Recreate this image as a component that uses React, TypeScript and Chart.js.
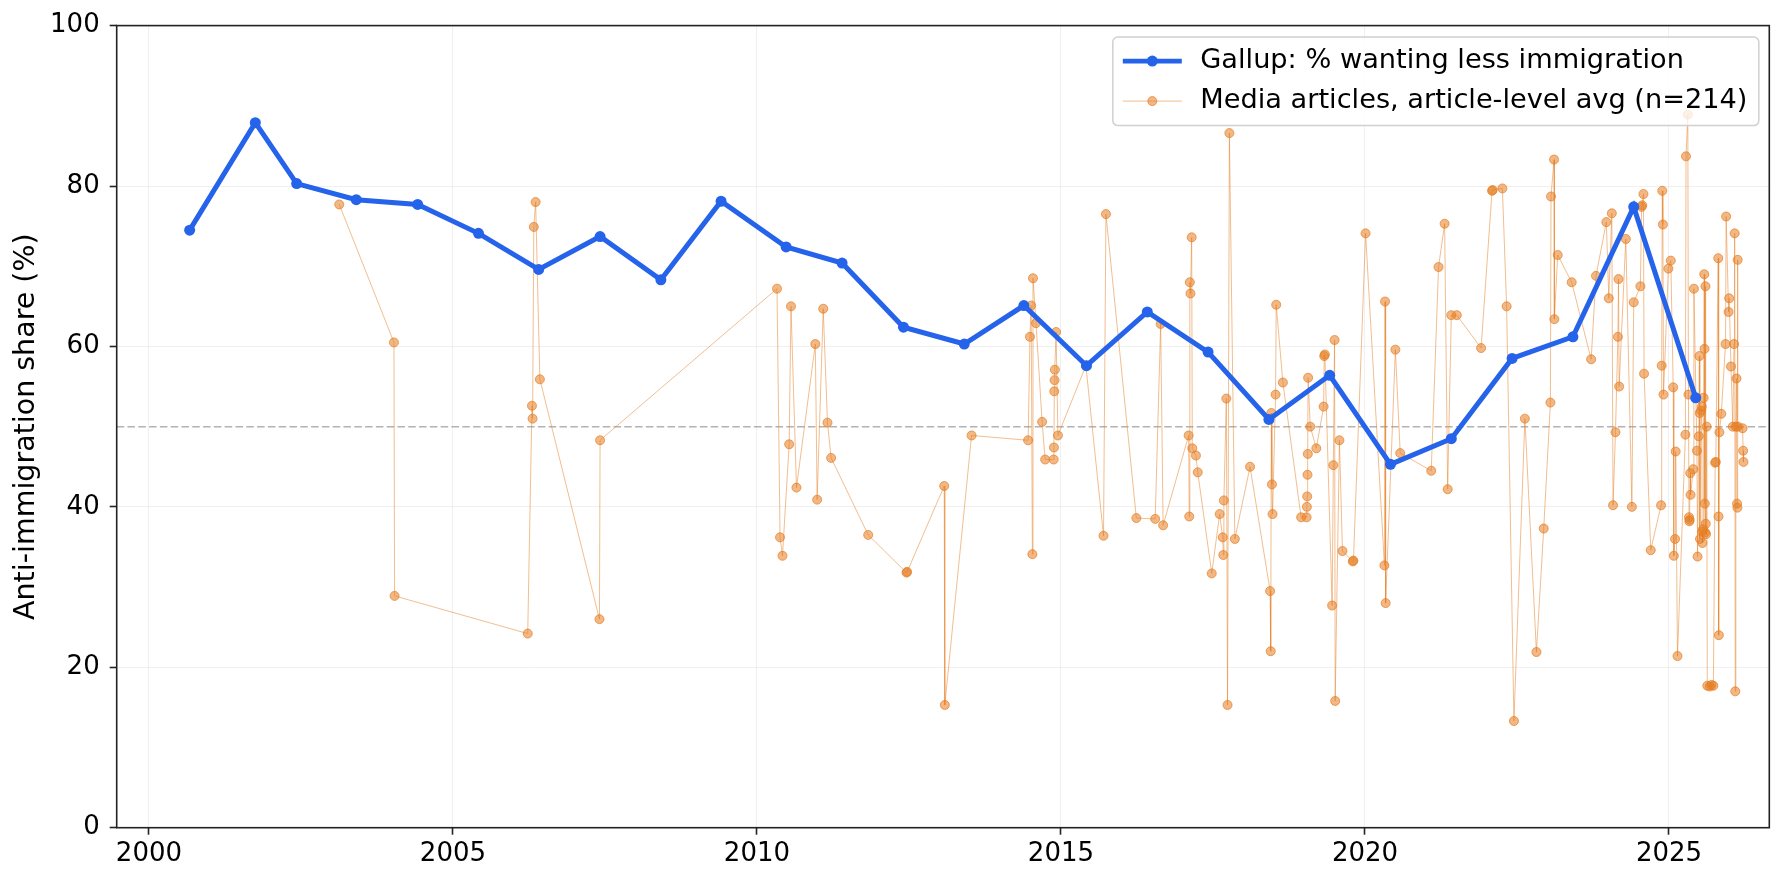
import React, { useEffect, useRef } from 'react';
import { Chart, registerables } from 'chart.js';

Chart.register(...registerables);

// Gallup: % wanting less immigration (fractional year, share)
const GALLUP_DATES = [
  2000.67, 2001.75, 2002.43, 2003.41, 2004.42, 2005.42, 2006.41, 2007.42, 2008.42,
  2009.41, 2010.48, 2011.40, 2012.41, 2013.41, 2014.39, 2015.42, 2016.42, 2017.42,
  2018.42, 2019.42, 2020.42, 2021.42, 2022.42, 2023.42, 2024.42, 2025.44,
];
const GALLUP_LESS = [
  74.5, 87.9, 80.3, 78.3, 77.7, 74.1, 69.6, 73.7, 68.3,
  78.1, 72.4, 70.4, 62.4, 60.3, 65.1, 57.6, 64.3, 59.3,
  50.9, 56.4, 45.3, 48.5, 58.5, 61.2, 77.4, 53.6,
];

// media articles, article-level average
const MEDIA_DATES = [
  2003.13, 2004.03, 2004.04, 2006.23, 2006.30, 2006.31, 2006.33, 2006.36, 2006.43, 2007.41, 2007.42,
  2010.33, 2010.38, 2010.42, 2010.53, 2010.56, 2010.65, 2010.96, 2010.99, 2011.09, 2011.16, 2011.22,
  2011.83, 2012.46, 2012.47, 2013.08, 2013.09, 2013.53,
  2014.46, 2014.49, 2014.51, 2014.53, 2014.54, 2014.59, 2014.69, 2014.74, 2014.88, 2014.885, 2014.89,
  2014.895, 2014.90, 2014.92, 2014.95,
  2015.41, 2015.70, 2015.74, 2016.24, 2016.55, 2016.64, 2016.68,
  2017.10, 2017.11, 2017.12, 2017.13, 2017.15, 2017.16, 2017.22, 2017.25, 2017.48, 2017.61, 2017.66,
  2017.67, 2017.68, 2017.72, 2017.74, 2017.77, 2017.86,
  2018.11, 2018.44, 2018.45, 2018.46, 2018.47, 2018.48, 2018.53, 2018.54, 2018.65,
  2018.95, 2019.04, 2019.045, 2019.05, 2019.055, 2019.06, 2019.065, 2019.10, 2019.20, 2019.32, 2019.33,
  2019.34, 2019.46, 2019.48, 2019.50, 2019.51, 2019.58, 2019.63, 2019.80, 2019.81,
  2020.01, 2020.32, 2020.33, 2020.34, 2020.50, 2020.58,
  2021.09, 2021.21, 2021.31, 2021.36, 2021.42, 2021.51, 2021.91,
  2022.09, 2022.10, 2022.26, 2022.33, 2022.45, 2022.63, 2022.82, 2022.94,
  2023.05, 2023.06, 2023.11, 2023.115, 2023.17, 2023.40, 2023.72, 2023.80, 2023.97,
  2024.01, 2024.06, 2024.08, 2024.12, 2024.16, 2024.17, 2024.18, 2024.29, 2024.39, 2024.42,
  2024.53, 2024.55, 2024.56, 2024.58, 2024.59, 2024.70, 2024.87, 2024.88, 2024.89, 2024.90, 2024.91,
  2024.99, 2025.03, 2025.07, 2025.08, 2025.10, 2025.11, 2025.14,
  2025.27, 2025.28, 2025.31, 2025.32, 2025.33, 2025.335, 2025.34, 2025.35, 2025.355, 2025.40, 2025.41,
  2025.46, 2025.47, 2025.49, 2025.50, 2025.505, 2025.51, 2025.53, 2025.54, 2025.545, 2025.55, 2025.56,
  2025.57, 2025.58, 2025.585, 2025.59, 2025.595, 2025.60, 2025.605, 2025.61, 2025.62,
  2025.63, 2025.67, 2025.70, 2025.73, 2025.76, 2025.77, 2025.81, 2025.815, 2025.82, 2025.83, 2025.86,
  2025.93, 2025.94, 2025.98, 2025.99,
  2026.02, 2026.05, 2026.07, 2026.08, 2026.09, 2026.10, 2026.11, 2026.12, 2026.125, 2026.13, 2026.135,
  2026.21, 2026.22, 2026.225,
];
const MEDIA_SHARE = [
  77.7, 60.5, 28.9, 24.2, 52.6, 51.0, 74.9, 78.0, 55.9, 26.0, 48.3,
  67.2, 36.2, 33.9, 47.8, 65.0, 42.4, 60.3, 40.9, 64.7, 50.5, 46.1,
  36.5, 31.8, 31.9, 42.6, 15.3, 48.9,
  48.3, 61.2, 65.1, 34.1, 68.5, 62.9, 50.6, 45.9, 45.9, 47.4, 54.4,
  55.8, 57.1, 61.8, 48.9,
  57.6, 36.4, 76.5, 38.6, 38.5, 62.8, 37.7,
  48.9, 38.8, 68.0, 66.6, 73.6, 47.3, 46.4, 44.3, 31.7, 39.1, 36.2,
  34.0, 40.8, 53.5, 15.3, 86.6, 36.0,
  45.0, 29.5, 22.0, 51.7, 42.8, 39.1, 54.0, 65.2, 55.5,
  38.7, 38.7, 40.0, 41.3, 44.0, 46.6, 56.1, 50.0, 47.3, 52.5, 58.8,
  59.0, 27.7, 45.2, 60.8, 15.8, 48.3, 34.5, 33.2, 33.3,
  74.1, 32.7, 65.6, 28.0, 59.6, 46.7,
  44.5, 69.9, 75.3, 42.2, 63.9, 63.9, 59.8,
  79.4, 79.5, 79.7, 65.0, 13.3, 51.0, 21.9, 37.3,
  53.0, 78.7, 83.3, 63.4, 71.4, 68.0, 58.4, 68.8, 75.5,
  66.0, 76.6, 40.2, 49.3, 61.2, 68.4, 55.0, 73.4, 40.0, 65.5,
  67.5, 77.4, 77.6, 79.0, 56.6, 34.6, 40.2, 57.6, 79.4, 75.2, 54.0,
  69.7, 70.7, 54.9, 33.9, 36.0, 46.9, 21.4,
  49.0, 83.7, 88.9, 54.0, 38.7, 38.2, 38.4, 44.2, 41.5, 44.7, 67.2,
  47.0, 33.8, 48.8, 58.8, 51.7, 36.0, 52.0, 52.5, 36.9, 35.5, 37.2,
  53.6, 69.0, 59.7, 40.4, 36.8, 67.5, 37.9, 36.6, 50.0,
  17.7, 17.6, 17.8, 17.7, 45.5, 45.6, 71.0, 38.8, 24.0, 49.3, 51.6,
  60.3, 76.2, 64.3, 66.0,
  57.5, 50.0, 60.3, 74.1, 17.0, 50.0, 56.0, 40.4, 39.9, 70.8, 50.0,
  49.8, 47.0, 45.6,
];

const X_TICKS = [2000, 2005, 2010, 2015, 2020, 2025];
const Y_TICKS = [0, 20, 40, 60, 80, 100];
const X_MIN = 1999.47;
const X_MAX = 2026.65;
const THRESHOLD = 50;
const GALLUP_LABEL = 'Gallup: % wanting less immigration';
const MEDIA_LABEL = 'Media articles, article-level avg (n=214)';
const Y_TITLE = 'Anti-immigration share (%)';

const BLUE = '#2563eb';
const ORANGE = 'rgba(230, 126, 34, 0.55)';
const ORANGE_EDGE = 'rgba(230, 126, 34, 0.7)';
const ORANGE_LINE = 'rgba(230, 126, 34, 0.5)';
const FONT = '"DejaVu Sans", sans-serif';

// 50% guide, box frame and an in-plot legend like matplotlib's
const decorPlugin = {
  id: 'decor',
  beforeDatasetsDraw(chart: any) {
    const { ctx, chartArea: a, scales } = chart;
    const y = scales.y.getPixelForValue(THRESHOLD);
    ctx.save();
    ctx.strokeStyle = 'rgba(128,128,128,0.6)';
    ctx.lineWidth = 1.5;
    ctx.setLineDash([7.5, 3.3]);
    ctx.beginPath();
    ctx.moveTo(a.left, y);
    ctx.lineTo(a.right, y);
    ctx.stroke();
    ctx.restore();
  },
  afterDraw(chart: any) {
    const { ctx, chartArea: a } = chart;
    ctx.save();
    ctx.strokeStyle = '#222';
    ctx.lineWidth = 1.6;
    ctx.strokeRect(a.left, a.top, a.right - a.left, a.bottom - a.top);

    // legend box
    const right = a.right - 10.5;
    const left = right - 646;
    const top = a.top + 11.5;
    const bottom = top + 88.5;
    const r = 5;
    ctx.beginPath();
    ctx.moveTo(left + r, top);
    ctx.arcTo(right, top, right, bottom, r);
    ctx.arcTo(right, bottom, left, bottom, r);
    ctx.arcTo(left, bottom, left, top, r);
    ctx.arcTo(left, top, right, top, r);
    ctx.closePath();
    ctx.fillStyle = 'rgba(255,255,255,0.8)';
    ctx.fill();
    ctx.strokeStyle = '#d0d0d0';
    ctx.lineWidth = 1.5;
    ctx.stroke();

    const hx0 = left + 10;
    const hx1 = left + 69;
    const hxm = (hx0 + hx1) / 2;
    const row1 = top + 24;
    const row2 = top + 64;

    ctx.strokeStyle = BLUE;
    ctx.lineWidth = 4.8;
    ctx.beginPath();
    ctx.moveTo(hx0, row1);
    ctx.lineTo(hx1, row1);
    ctx.stroke();
    ctx.fillStyle = BLUE;
    ctx.beginPath();
    ctx.arc(hxm, row1, 5.5, 0, Math.PI * 2);
    ctx.fill();

    ctx.strokeStyle = ORANGE_LINE;
    ctx.lineWidth = 1;
    ctx.beginPath();
    ctx.moveTo(hx0, row2);
    ctx.lineTo(hx1, row2);
    ctx.stroke();
    ctx.fillStyle = ORANGE;
    ctx.strokeStyle = ORANGE_EDGE;
    ctx.beginPath();
    ctx.arc(hxm, row2, 4.5, 0, Math.PI * 2);
    ctx.fill();
    ctx.stroke();

    ctx.fillStyle = '#000';
    ctx.font = `27.2px ${FONT}`;
    ctx.textBaseline = 'middle';
    ctx.textAlign = 'left';
    ctx.fillText(GALLUP_LABEL, left + 87.5, row1);
    ctx.fillText(MEDIA_LABEL, left + 87.5, row2);
    ctx.restore();
  },
};

const App: React.FC = () => {
  const canvasRef = useRef<HTMLCanvasElement>(null);

  useEffect(() => {
    document.body.style.margin = '0';
    const canvas = canvasRef.current;
    if (!canvas) return;

    const gallup = GALLUP_DATES.map((d, i) => ({ x: d, y: GALLUP_LESS[i] }));
    const media = MEDIA_DATES.map((d, i) => ({ x: d, y: MEDIA_SHARE[i] })).sort((p, q) => p.x - q.x);

    const tickFont = { family: FONT, size: 26 };

    const chart = new Chart(canvas, {
      type: 'line',
      data: {
        datasets: [
          {
            label: GALLUP_LABEL,
            data: gallup,
            borderColor: BLUE,
            backgroundColor: BLUE,
            borderWidth: 5,
            pointRadius: 5.5,
            pointBorderWidth: 0,
            pointBackgroundColor: BLUE,
            tension: 0,
          },
          {
            label: MEDIA_LABEL,
            data: media,
            borderColor: ORANGE_LINE,
            borderWidth: 1,
            pointRadius: 4.5,
            pointBorderWidth: 1,
            pointBackgroundColor: ORANGE,
            pointBorderColor: ORANGE_EDGE,
            tension: 0,
          },
        ],
      },
      options: {
        animation: false,
        responsive: false,
        devicePixelRatio: 1,
        events: [],
        layout: { padding: { top: 24, right: 15.7, left: 0, bottom: 0 }, autoPadding: false },
        plugins: { legend: { display: false }, tooltip: { enabled: false } },
        scales: {
          x: {
            type: 'linear',
            min: X_MIN,
            max: X_MAX,
            afterBuildTicks: (scale: any) => {
              scale.ticks = X_TICKS.map(value => ({ value }));
            },
            afterFit: (scale: any) => {
              scale.height = 56.3;
            },
            ticks: {
              font: tickFont,
              color: '#000',
              padding: 4,
              maxRotation: 0,
              callback: (v: any) => String(v),
            },
            grid: {
              color: 'rgba(0,0,0,0.06)',
              lineWidth: 1,
              tickLength: 7,
              tickColor: '#222',
              tickWidth: 1.6,
            },
            border: { display: false },
          },
          y: {
            type: 'linear',
            min: 0,
            max: 100,
            afterBuildTicks: (scale: any) => {
              scale.ticks = Y_TICKS.map(value => ({ value }));
            },
            afterFit: (scale: any) => {
              scale.width = 116.7;
            },
            ticks: {
              font: tickFont,
              color: '#000',
              padding: 10,
              callback: (v: any) => String(v),
            },
            grid: {
              color: 'rgba(0,0,0,0.06)',
              lineWidth: 1,
              tickLength: 7,
              tickColor: '#222',
              tickWidth: 1.6,
            },
            border: { display: false },
            title: {
              display: true,
              text: Y_TITLE,
              color: '#000',
              font: { family: FONT, size: 28.5 },
              padding: { top: 9, bottom: 0 },
            },
          },
        },
      },
      plugins: [decorPlugin],
    });

    return () => {
      chart.destroy();
    };
  }, []);

  return (
    <div style={{ width: 1785, height: 884, background: '#fff' }}>
      <canvas ref={canvasRef} width={1785} height={884} style={{ display: 'block' }} />
    </div>
  );
};

export default App;
